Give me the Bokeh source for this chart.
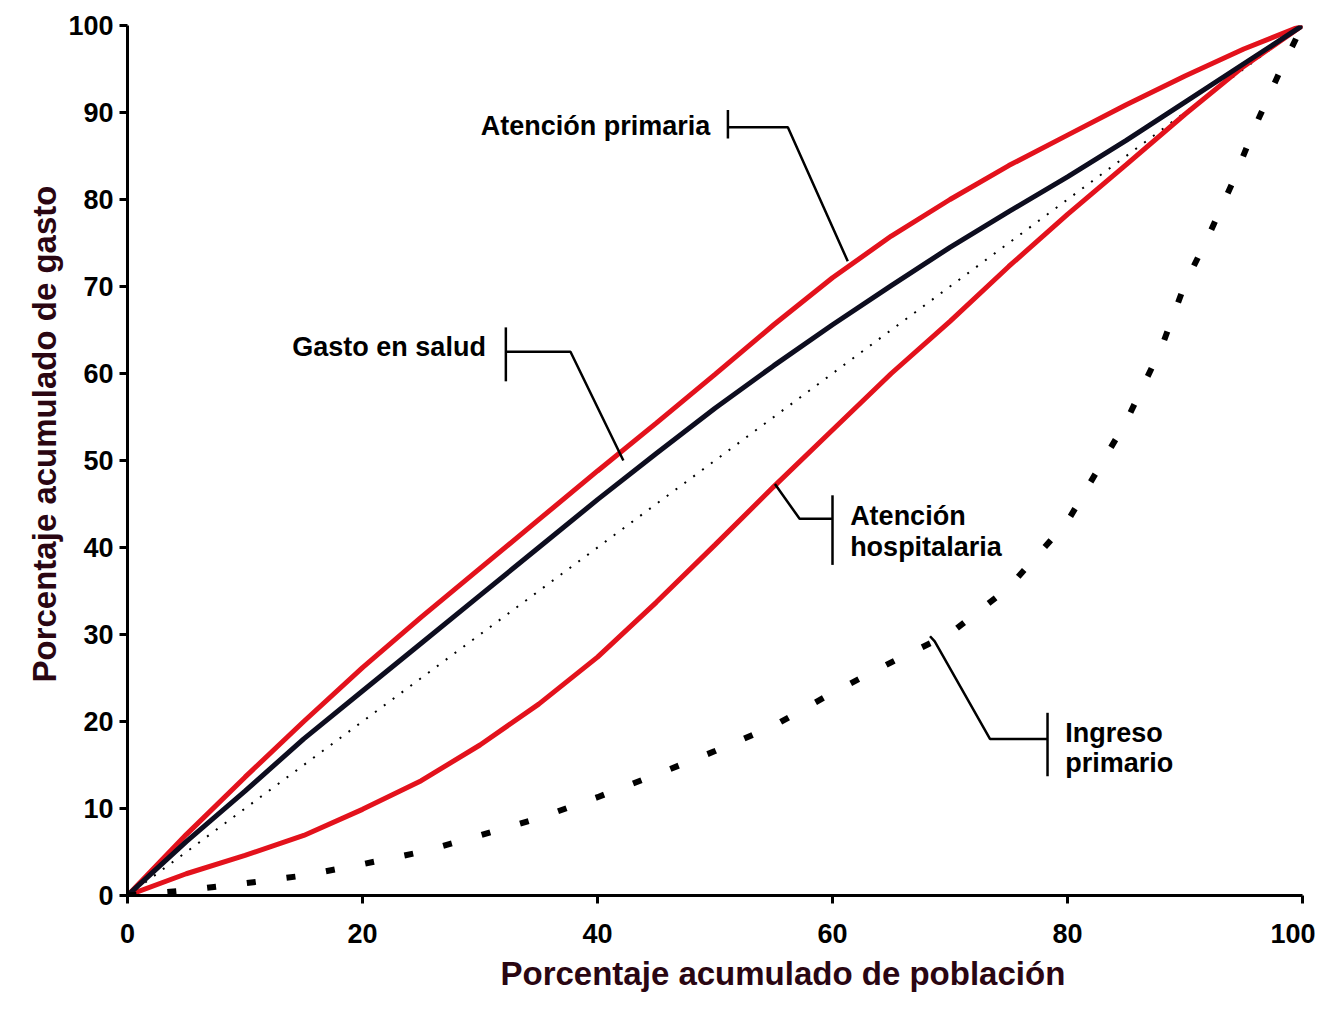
import numpy as np
from bokeh.plotting import figure
from bokeh.models import Label, FixedTicker, Title
from bokeh.embed import file_html
from bokeh.resources import INLINE

# porcentaje acumulado de población (eje x)
pob = [0, 5, 10, 15, 20, 25, 30, 35, 40, 45, 50, 55, 60, 65, 70, 75, 80, 85, 90, 95, 100]

# curvas de concentración (porcentaje acumulado de gasto)
atencion_primaria = [0, 7, 13.6, 20, 26.2, 32, 37.6, 43.2, 48.8, 54.3, 59.9, 65.6, 71.0, 75.8, 80.0, 83.9, 87.4, 90.9, 94.2, 97.3, 100]
gasto_salud = [0, 6.2, 12, 18, 23.5, 29, 34.5, 40, 45.5, 50.8, 56, 60.9, 65.6, 70.1, 74.5, 78.6, 82.6, 86.8, 91.2, 95.6, 100]
atencion_hosp = [0, 2.5, 4.6, 6.9, 9.9, 13.2, 17.3, 22, 27.4, 33.7, 40.3, 47, 53.5, 60, 66, 72.3, 78.3, 84, 89.8, 95.3, 100]

# curva de Lorenz del ingreso primario
pob_ingreso = [0, 5, 10, 15, 20, 25, 30, 35, 40, 45, 50, 55, 60, 65, 70, 75, 80, 85, 88, 90, 92, 94, 96, 98, 100]
ingreso_primario = [0, 0.6, 1.4, 2.3, 3.6, 5, 6.9, 8.9, 11.3, 13.9, 16.6, 19.5, 23.3, 26.8, 30.1, 35.4, 43, 54.5, 63, 70.3, 75.8, 81.8, 88.5, 94.5, 100]

# línea de igualdad
igualdad_x = [0, 100]
igualdad_y = [0, 100]

x_ticks = [0, 20, 40, 60, 80, 100]
y_ticks = [0, 10, 20, 30, 40, 50, 60, 70, 80, 90, 100]

# etiquetas y sus líneas guía (coordenadas de datos)
etiquetas = [
    ("Atención primaria", 49.6, 88.5, "right"),
    ("Gasto en salud", 30.5, 63.1, "right"),
    ("Atención", 61.5, 43.6, "left"),
    ("hospitalaria", 61.5, 40.1, "left"),
    ("Ingreso", 79.8, 18.7, "left"),
    ("primario", 79.8, 15.2, "left"),
]
guias_x = [
    [51.1, 51.1], [51.1, 56.2, 61.3],
    [32.2, 32.2], [32.2, 37.7, 42.2],
    [60.0, 60.0], [60.0, 57.2, 55.1],
    [78.3, 78.3], [78.3, 73.4, 68.7, 68.3],
]
guias_y = [
    [90.3, 87.0], [88.3, 88.3, 72.9],
    [65.3, 59.1], [62.5, 62.5, 50.0],
    [46.0, 38.0], [43.3, 43.3, 47.3],
    [21.0, 13.7], [18.0, 18.0, 29.2, 29.8],
]

FONT = "Liberation Sans"
ROJO = "#e3121c"
TITULO = "#2a0612"

p = figure(
    width=1315, height=998,
    x_range=(0, 100), y_range=(0, 100),
    output_backend="svg", toolbar_location=None,
    min_border_left=127, min_border_right=13,
    min_border_top=25, min_border_bottom=100,
)
p.outline_line_color = None
p.background_fill_color = "white"
p.xgrid.grid_line_color = None
p.ygrid.grid_line_color = None

p.line(igualdad_x, igualdad_y, color="black", line_width=2, line_dash="2 9")
p.line(pob, atencion_hosp, color=ROJO, line_width=5)
p.line(pob, atencion_primaria, color=ROJO, line_width=5)
p.line(pob, gasto_salud, color="#0d0d1f", line_width=5)
p.line(pob_ingreso, ingreso_primario, color="black", line_width=6, line_dash="9 31")

p.multi_line(guias_x, guias_y, color="black", line_width=2.5)

for texto, lx, ly, al in etiquetas:
    p.add_layout(Label(x=lx, y=ly, text=texto, text_font=FONT, text_font_size="27px",
                       text_font_style="bold", text_color="black",
                       text_align=al, text_baseline="middle"))

# títulos de los ejes
p.add_layout(Title(text="Porcentaje acumulado de población", align="left", offset=373,
                   text_font=FONT, text_font_size="33px", text_font_style="bold",
                   text_color=TITULO, standoff=14), "below")
p.add_layout(Title(text="Porcentaje acumulado de gasto", align="left", offset=213,
                   text_font=FONT, text_font_size="33px", text_font_style="bold",
                   text_color=TITULO, standoff=6), "left")

for ax in (p.xaxis, p.yaxis):
    ax.axis_line_width = 3
    ax.axis_line_color = "black"
    ax.major_tick_line_width = 3
    ax.major_tick_out = 8
    ax.major_tick_in = 0
    ax.minor_tick_line_color = None
    ax.major_label_text_font = FONT
    ax.major_label_text_font_size = "27px"
    ax.major_label_text_font_style = "bold"
    ax.major_label_text_color = "black"

p.xaxis.ticker = FixedTicker(ticks=x_ticks)
p.yaxis.ticker = FixedTicker(ticks=y_ticks)
p.xaxis.major_label_standoff = 20
p.yaxis.major_label_standoff = 6

open("out.html", "w").write(file_html(p, INLINE))
